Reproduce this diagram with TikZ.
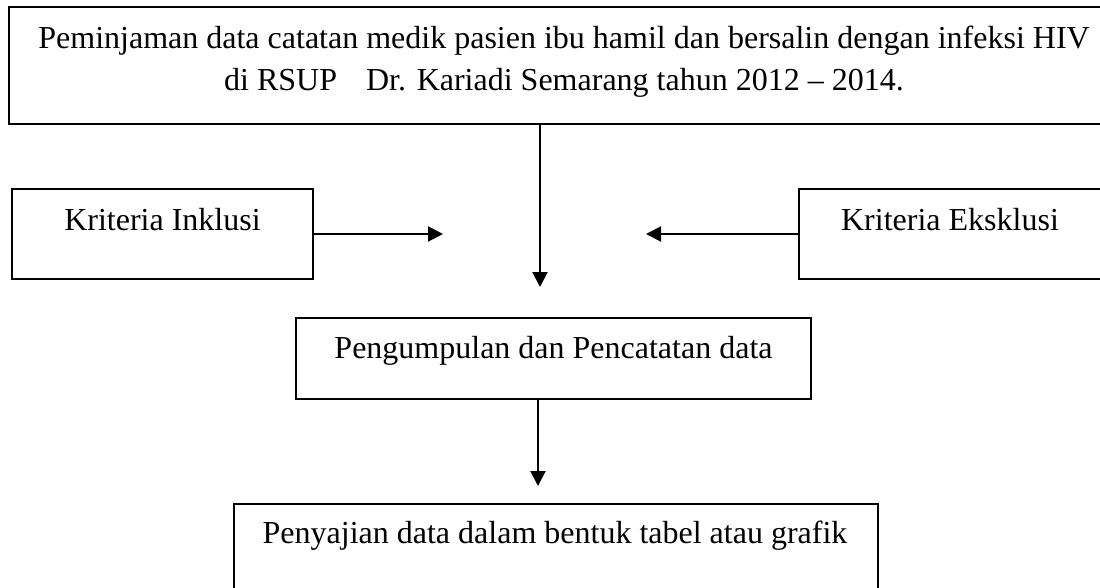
\documentclass[tikz,border=0pt]{standalone}
\usepackage{fontspec}
\setmainfont{Liberation Serif}
\usetikzlibrary{arrows.meta}
\begin{document}
\begin{tikzpicture}[x=1pt,y=-1pt,
  box/.style={draw, line width=2pt, inner sep=0pt, outer sep=0pt, anchor=north west},
  lbl/.style={anchor=base, inner sep=0pt, font=\fontsize{32}{40}\selectfont},
  arr/.style={line width=2pt, -{Triangle[length=15pt,width=15pt]}}]
\useasboundingbox (0,0) rectangle (1100,587);
% boxes
\node[box, minimum width=1111pt, minimum height=117pt] (top) at (9,7) {};
\node[box, minimum width=301pt, minimum height=90pt] (inkl) at (12,189) {};
\node[box, minimum width=320pt, minimum height=90pt] (eksk) at (799,189) {};
\node[box, minimum width=515pt, minimum height=81pt] (mid) at (296,318) {};
\node[box, minimum width=644pt, minimum height=120pt] (bot) at (234,504) {};
% labels
\node[lbl] (t1) at (564,48) {Peminjaman data catatan medik pasien ibu hamil dan bersalin dengan infeksi HIV};
\node[lbl] (t2) at (564,90) {di RSUP\hspace{29pt}Dr. Kariadi Semarang tahun 2012 – 2014.};
\node[lbl] (tinkl) at (162.5,230) {Kriteria Inklusi};
\node[lbl] (teksk) at (950,230) {Kriteria Eksklusi};
\node[lbl] (tmid) at (553.5,358) {Pengumpulan dan Pencatatan data};
\node[lbl] (tbot) at (555,543) {Penyajian data dalam bentuk tabel atau grafik};
% arrow ends
\coordinate (c1) at (540,287);
\coordinate (c2) at (443,234);
\coordinate (c3) at (646,234);
\coordinate (c4) at (538,486);
\draw[arr] (c1 |- top.south) -- (c1);
\draw[arr] (inkl.east |- c2) -- (c2);
\draw[arr] (eksk.west |- c3) -- (c3);
\draw[arr] (c4 |- mid.south) -- (c4);
\end{tikzpicture}
\end{document}
